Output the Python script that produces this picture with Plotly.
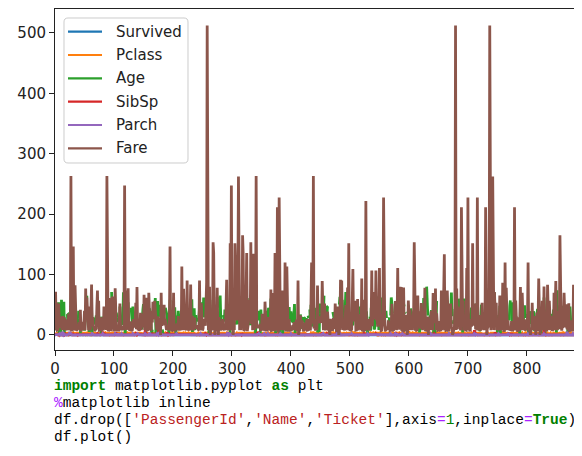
import plotly.graph_objects as go

N = None

SERIES_NAMES = ["Survived", "Pclass", "Age", "SibSp", "Parch", "Fare"]
X_TICKS = [0, 100, 200, 300, 400, 500, 600, 700, 800]
Y_TICKS = [0, 100, 200, 300, 400, 500]

SURVIVED = [
    0,1,1,1,0,0,0,0,1,1,1,1,0,0,0,1,0,1,0,1,0,1,1,1,0,1,0,0,1,0,
    0,1,1,0,0,0,1,0,0,1,0,0,0,1,1,0,0,1,1,0,0,0,1,1,0,0,1,0,0,0,
    0,0,0,1,1,0,1,0,0,0,0,0,1,1,1,1,1,0,1,0,0,0,1,1,0,1,0,1,0,0,
    1,0,1,1,1,1,0,0,1,0,0,0,0,0,1,0,0,1,1,1,0,1,0,0,0,1,1,0,1,1,
    0,0,1,1,1,0,0,0,0,0,0,1,0,0,0,0,1,0,0,1,0,0,0,0,0,1,0,1,0,1,
    0,0,0,0,1,1,0,1,0,0,0,1,1,1,0,0,1,0,0,1,0,0,1,1,0,0,0,1,1,0,
    0,0,1,1,0,1,0,0,1,0,0,0,1,0,1,1,0,1,0,1,1,0,0,0,0,0,1,0,0,1,
    0,0,1,0,1,0,1,1,0,0,0,0,0,1,0,0,1,1,0,0,1,1,0,0,1,0,0,1,0,0,
    0,1,1,0,0,1,0,0,1,1,1,0,1,0,0,0,0,0,1,0,0,1,1,0,1,0,0,1,0,0,
    1,1,0,1,0,0,0,0,1,1,0,1,1,0,0,1,0,0,1,1,0,0,1,1,0,0,0,0,1,0,
    1,0,0,1,1,0,0,1,0,1,0,1,0,0,0,1,0,0,1,1,1,0,1,1,1,0,1,0,1,0,
    0,1,0,0,1,0,0,1,1,1,0,0,0,1,0,0,0,1,0,0,1,0,1,1,1,1,0,1,1,1,
    0,1,0,0,0,1,0,0,1,0,1,1,1,1,0,1,0,0,0,0,0,0,1,1,1,1,0,1,0,1,
    1,1,0,0,0,0,0,1,1,0,0,0,1,1,0,0,0,1,1,0,1,0,0,0,1,0,0,0,0,0,
    0,0,0,1,0,0,0,0,1,0,1,1,0,0,0,1,0,1,0,0,1,0,1,1,0,0,0,1,0,1,
    0,1,0,0,0,1,0,0,0,0,1,1,0,0,1,0,1,1,0,0,1,0,0,1,1,1,1,0,0,0,
    0,0,1,0,0,1,0,0,0,0,1,1,0,0,1,1,0,0,0,1,0,0,0,0,0,1,1,0,0,1,
    0,0,0,0,1,1,0,0,0,1,1,0,1,0,0,1,0,0,0,1,0,0,0,1,0,1,0,0,1,0,
    1,0,1,0,0,0,0,1,0,0,0,1,0,0,1,0,1,0,0,1,0,0,0,1,0,0,1,0,0,0,
    1,0,0,1,0,0,1,0,1,0,0,1,0,0,0,1,0,1,1,0,0,0,1,0,0,0,0,0,1,0,
    0,1,0,0,0,1,0,0,1,1,0,1,0,0,0,1,1,0,1,0,0,1,0,0,0,1,0,1,1,1,
    0,0,1,0,1,0,0,0,1,1,0,1,0,0,1,0,0,0,1,0,0,1,1,0,1,0,1,0,0,0,
    0,0,0,1,0,0,1,0,0,1,1,0,0,1,0,0,0,1,1,0,0,0,0,1,0,1,0,0,1,0,
    1,0,0,0,1,0,0,1,0,0,0,1,1,0,0,1,1,0,0,0,1,0,0,1,0,0,1,0,0,1,
    0,0,1,1,0,0,1,0,0,0,1,0,0,1,0,0,0,0,1,1,0,0,0,1,0,0,1,0,1,0,
    0,1,0,0,0,1,1,0,0,0,1,0,0,0,1,0,0,1,0,0,1,0,0,0,0,1,0,0,1,1,
    0,0,0,1,0,1,0,0,0,1,0,0,1,0,0,0,1,0,1,0,0,0,1,0,0,1,0,0,0,1,
    1,0,0,0,1,0,0,0,1,0,0,1,0,1,0,0,0,0,1,0,0,1,0,0,0,1,0,0,1,0,
    0,1,0,0,0,1,0,1,0,0,0,1,0,0,1,0,0,0,1,0,1,0,0,0,1,0,0,1,0,0,
    1,0,0,0,1,0,0,1,0,0,0,1,0,0,1,0,1,0,1,0,0,
]

PCLASS = [
    3,1,3,1,3,3,1,3,3,2,3,1,3,3,3,2,3,2,3,3,2,2,3,1,3,3,3,1,3,3,
    1,1,3,2,1,1,3,3,3,3,3,2,3,1,3,3,3,3,1,3,3,3,1,2,1,3,2,3,2,1,
    3,1,1,3,1,3,2,3,3,3,2,1,1,3,1,3,3,3,1,3,3,3,3,3,3,1,3,2,3,3,
    3,3,3,1,3,3,3,2,3,2,1,3,3,3,3,3,3,3,3,1,1,3,3,3,2,3,3,1,3,3,
    1,3,2,3,2,3,3,2,3,2,3,3,3,2,1,3,3,3,3,1,3,3,3,1,3,3,3,3,3,3,
    2,1,3,3,3,3,3,3,1,1,2,3,3,3,3,3,3,3,2,3,3,3,3,1,3,3,3,3,3,1,
    3,1,3,3,3,3,3,1,3,2,3,3,1,2,1,3,3,2,3,1,3,3,1,2,3,2,3,3,3,2,
    3,2,3,3,1,2,3,3,1,3,1,3,2,3,3,3,1,3,2,3,3,3,1,2,2,3,3,1,3,1,
    3,1,2,3,2,1,3,3,3,2,2,3,2,3,3,2,3,1,3,3,1,3,2,3,3,2,1,2,3,3,
    1,3,1,3,1,3,1,1,3,3,2,3,2,3,1,1,3,3,1,1,2,3,1,3,3,2,1,2,2,1,
    3,1,1,1,1,3,1,2,3,1,1,2,3,3,2,3,3,3,2,2,3,2,2,2,3,2,3,1,1,3,
    3,2,2,3,3,2,3,1,3,2,3,1,2,3,3,3,3,2,2,1,2,3,3,3,1,1,3,3,1,2,
    1,1,3,2,3,3,3,1,3,2,3,3,3,1,1,3,3,3,1,2,3,2,2,3,3,2,2,3,2,2,
    3,3,2,3,1,1,2,3,2,3,3,1,3,3,3,3,1,2,3,3,3,3,3,2,3,3,3,2,2,1,
    2,3,2,3,1,2,1,1,1,2,2,1,2,1,3,2,3,2,1,3,2,3,3,1,3,3,3,3,3,3,
    3,3,3,1,2,2,3,3,3,2,3,3,2,3,2,3,1,3,2,1,3,2,3,1,3,3,3,1,2,3,
    3,2,3,1,3,2,2,1,2,3,3,1,2,3,3,2,3,3,3,1,2,3,3,2,3,1,3,2,3,1,
    3,3,3,1,2,3,3,2,3,3,3,1,3,3,3,2,3,2,3,2,1,1,3,2,3,1,3,2,2,3,
    1,3,3,1,3,2,1,3,3,1,3,3,2,1,3,2,3,3,1,2,3,1,3,3,3,2,3,3,2,1,
    3,3,2,3,1,3,1,3,3,2,1,3,3,1,3,2,3,3,1,3,3,2,3,1,3,1,2,3,3,2,
    3,1,3,2,3,3,1,3,2,3,3,2,3,1,1,3,3,3,1,3,3,3,1,3,3,3,1,2,3,3,
    3,3,1,3,2,3,3,3,1,2,3,2,3,2,3,3,1,3,2,3,3,1,3,2,3,3,1,3,3,3,
    2,3,2,3,3,1,2,3,3,1,1,3,3,2,3,3,2,1,1,3,3,3,3,1,3,2,3,3,3,1,
    2,3,3,1,3,2,1,2,2,1,3,3,1,2,1,3,3,1,2,3,3,3,3,3,2,3,1,3,3,3,
    1,3,3,2,2,1,1,3,1,2,3,3,3,1,3,2,1,3,1,3,3,3,3,3,2,2,3,1,3,3,
    2,3,3,3,3,1,3,3,1,3,2,3,2,3,3,2,3,3,2,2,1,2,3,3,3,1,3,3,2,3,
    3,2,3,3,3,3,1,3,3,3,2,2,3,1,3,1,2,3,1,3,3,2,3,3,1,3,3,3,3,2,
    3,1,2,3,3,3,3,3,2,2,3,1,3,3,3,1,3,2,3,3,2,1,3,1,3,3,1,3,1,3,
    3,1,3,1,3,3,3,3,3,3,2,3,1,2,2,3,3,3,1,3,3,2,3,1,3,3,3,3,3,1,
    2,3,3,3,3,1,3,2,3,3,3,3,3,2,3,2,3,1,3,1,3,
]

AGE = [
    22,38,26,35,35,N,54,2,27,14,
    4,58,20,39,14,55,2,N,31,N,
    35,34,15,28,8,38,N,19,N,N,
    40,N,N,66,28,42,N,21,18,14,
    40,27,N,3,19,N,N,N,N,18,
    7,21,49,29,65,N,21,28.5,5,11,
    22,38,45,4,N,N,29,19,17,26,
    32,16,21,26,32,25,N,N,0.83,30,
    22,29,N,28,17,33,16,N,23,24,
    29,20,46,26,59,N,71,23,34,34,
    28,N,21,33,37,28,21,N,38,N,
    47,14.5,22,20,17,21,70.5,29,24,2,
    21,N,32.5,32.5,54,12,N,24,N,45,
    33,20,47,29,25,23,19,37,16,24,
    N,22,24,19,18,19,27,9,36.5,42,
    51,22,55.5,40.5,N,51,16,30,N,N,
    44,40,26,17,1,9,N,45,N,28,
    61,4,1,21,56,18,N,50,30,36,
    N,N,9,1,4,N,N,45,40,36,
    32,19,19,3,44,58,N,42,N,24,
    28,N,34,45.5,18,2,32,26,16,40,
    24,35,22,30,N,31,27,42,32,30,
    16,27,51,N,38,22,19,20.5,18,N,
    35,29,59,5,24,N,44,8,19,33,
    N,N,29,22,30,44,25,24,37,54,
    N,29,62,30,41,29,N,30,35,50,
    N,3,52,40,N,36,16,25,58,35,
    N,25,41,37,N,63,45,N,7,35,
    65,28,16,19,N,33,30,22,42,22,
    26,19,36,24,24,N,23.5,2,N,50,
    N,N,19,N,N,0.92,N,17,30,30,
    24,18,26,28,43,26,24,54,31,40,
    22,27,30,22,N,36,61,36,31,16,
    N,45.5,38,16,N,N,29,41,45,45,
    2,24,28,25,36,24,40,N,3,42,
    23,N,15,25,N,28,22,38,N,N,
    40,29,45,35,N,30,60,N,N,24,
    25,18,19,22,3,N,22,27,20,19,
    42,1,32,35,N,18,1,36,N,17,
    36,21,28,23,24,22,31,46,23,28,
    39,26,21,28,20,34,51,3,21,N,
    N,N,33,N,44,N,34,18,30,10,
    N,21,29,28,18,N,28,19,N,32,
    28,N,42,17,50,14,21,24,64,31,
    45,20,25,28,N,4,13,34,5,52,
    36,N,30,49,N,29,65,N,50,N,
    48,34,47,48,N,38,N,56,N,0.75,
    N,38,33,23,22,N,34,29,22,2,
    9,N,50,63,25,N,35,58,30,9,
    N,21,55,71,21,N,54,N,25,24,
    17,21,N,37,16,18,33,N,28,26,
    29,N,36,54,24,47,34,N,36,32,
    30,22,N,44,N,40.5,50,N,39,23,
    2,N,17,N,30,7,45,30,N,22,
    36,9,11,32,50,64,19,N,33,8,
    17,27,N,22,22,62,48,N,39,36,
    N,40,28,N,N,24,19,29,N,32,
    62,53,36,N,16,19,34,39,N,32,
    25,39,54,36,N,18,47,60,22,N,
    35,52,47,N,37,36,N,49,N,49,
    24,N,N,44,35,36,30,27,22,40,
    39,N,N,N,35,24,34,26,4,26,
    27,42,20,21,21,61,57,21,26,N,
    80,51,32,N,9,28,32,31,41,N,
    20,24,2,N,0.75,48,19,56,N,23,
    N,18,21,N,18,24,N,32,23,58,
    50,40,47,36,20,32,25,N,43,N,
    40,31,70,31,N,18,24.5,18,43,36,
    N,27,20,14,60,25,14,19,18,15,
    31,4,N,25,60,52,44,N,49,42,
    18,35,18,25,26,39,45,42,22,N,
    24,N,48,29,52,19,38,27,N,33,
    6,17,34,50,27,20,30,N,25,25,
    29,11,N,23,23,28.5,48,35,N,N,
    N,36,21,24,31,70,16,30,19,31,
    4,6,33,23,48,0.67,28,18,34,33,
    N,41,20,36,16,51,N,30.5,N,32,
    24,48,57,N,54,18,N,5,N,43,
    13,17,29,N,25,25,18,8,1,46,
    N,16,N,N,25,39,49,31,30,30,
    34,31,11,0.42,27,31,39,18,39,33,
    26,39,35,6,30.5,N,23,31,43,10,
    52,27,38,27,2,N,N,1,N,62,
    15,0.83,N,23,18,39,21,N,32,N,
    20,16,30,34.5,17,42,N,35,28,N,
    4,74,9,16,44,18,45,51,24,N,
    41,21,48,N,24,42,27,31,N,4,
    26,47,33,47,28,15,20,19,N,56,
    25,33,22,28,25,39,27,19,N,26,
    32,
]

SIBSP = [
    1,1,0,1,0,0,0,3,0,1,1,0,0,1,0,0,4,0,1,0,0,0,0,0,3,1,0,3,0,0,
    0,1,0,0,1,1,0,0,2,0,1,1,0,1,0,0,0,0,0,0,0,0,0,0,0,0,0,1,0,1,
    0,0,0,1,1,0,0,0,1,0,0,0,2,1,0,0,0,0,0,0,1,5,0,0,0,1,0,0,0,1,
    0,0,0,0,0,0,0,1,0,0,1,0,0,4,0,0,0,0,1,0,0,0,0,0,0,0,0,1,0,0,
    0,0,1,0,1,0,0,0,0,0,0,0,1,0,0,0,0,2,0,0,1,1,0,0,0,0,0,0,1,0,
    0,0,0,8,0,0,0,0,0,0,0,1,0,0,3,0,0,0,0,1,0,1,0,4,0,0,8,0,0,0,
    0,0,0,1,0,0,0,0,0,0,4,0,0,1,0,0,1,1,0,0,0,0,0,0,0,1,0,0,0,0,
    0,0,0,1,0,0,1,1,0,0,0,0,0,0,0,0,0,1,0,0,0,1,0,0,0,0,0,0,0,1,
    0,0,0,0,1,0,0,1,1,0,0,0,0,0,0,2,0,0,1,0,0,0,0,1,0,0,1,0,0,0,
    0,0,0,0,0,1,0,1,0,1,0,0,0,0,0,1,0,0,1,1,0,0,0,4,0,0,0,0,0,0,
    0,0,1,0,0,0,1,0,0,0,0,1,0,0,1,0,2,0,1,0,0,0,0,0,0,0,0,0,0,0,
    0,0,1,0,0,0,0,0,0,1,0,0,0,0,5,0,0,0,0,0,1,0,0,0,0,1,0,1,0,0,
    0,1,0,0,0,0,0,0,0,0,0,0,0,1,0,0,0,0,1,0,0,0,1,0,0,0,0,0,0,0,
    1,0,0,0,0,0,0,0,0,0,1,0,0,0,0,0,0,0,0,0,0,0,0,0,0,0,0,0,0,1,
    0,0,0,0,1,0,0,0,1,1,0,0,1,0,1,0,0,0,0,0,0,0,0,0,0,0,0,0,0,0,
    0,0,0,4,0,1,0,0,0,0,0,2,0,0,0,0,1,0,0,0,0,0,0,0,1,0,0,0,3,0,
    0,0,0,0,1,0,0,1,0,0,0,0,0,0,0,0,0,0,0,0,0,0,0,1,0,0,0,0,0,0,
    0,1,0,0,0,0,1,0,0,0,0,0,0,0,2,0,0,0,0,0,1,0,0,1,1,0,0,1,0,0,
    0,0,1,1,2,0,0,0,0,0,0,0,0,1,0,1,0,0,0,0,0,0,0,0,0,0,0,0,0,1,
    0,1,0,0,0,0,0,4,0,0,1,0,0,0,1,0,0,0,0,1,0,0,0,0,0,0,0,0,1,0,
    0,0,0,1,0,0,0,0,0,0,1,0,0,0,1,0,0,0,0,0,0,0,1,0,0,0,1,0,0,0,
    0,1,1,0,0,0,1,0,0,1,0,1,0,2,0,0,0,0,0,0,0,0,0,0,0,0,0,1,0,1,
    0,0,0,0,0,0,0,0,0,1,0,0,0,0,0,0,1,0,0,0,0,0,0,1,0,0,0,0,1,0,
    0,0,0,1,0,0,0,0,0,0,1,0,0,0,0,0,0,0,0,0,0,8,0,0,1,0,0,0,0,0,
    0,0,0,0,1,0,0,0,0,0,0,0,0,0,0,0,0,1,0,0,0,0,0,0,0,0,4,0,0,0,
    0,0,0,0,1,0,0,1,0,0,0,0,0,0,0,0,0,0,1,2,0,0,1,0,0,1,0,0,0,0,
    0,0,0,0,0,0,0,0,0,1,0,0,1,0,0,0,0,0,0,0,0,0,1,0,0,0,1,0,0,0,
    0,0,0,0,0,0,0,0,0,0,0,0,0,0,0,0,0,0,0,8,0,0,0,0,0,0,0,0,0,0,
    1,0,0,0,0,0,0,0,0,0,1,0,0,0,0,0,0,0,0,0,0,0,0,0,0,0,0,0,1,0,
    0,0,0,0,0,0,1,0,0,0,0,0,0,0,0,0,0,0,1,0,0,
]

PARCH = [
    0,0,0,0,0,0,0,1,2,0,1,0,0,5,0,0,1,0,0,0,0,0,0,0,1,5,0,2,0,0,
    0,0,0,0,0,0,0,0,0,0,0,0,0,0,0,0,0,0,0,0,0,0,0,0,0,0,0,0,0,0,
    0,1,0,2,1,0,0,0,0,1,0,0,0,0,0,0,0,0,0,0,0,2,0,0,0,0,0,0,1,0,
    0,0,0,1,0,0,0,1,0,0,0,0,2,1,0,0,0,2,0,0,0,0,0,2,0,0,0,0,0,0,
    0,0,0,0,1,0,0,0,0,0,0,0,2,0,0,0,0,0,0,1,2,1,0,0,0,0,0,0,0,0,
    0,0,0,2,0,0,0,0,0,0,2,2,0,0,1,0,0,0,0,0,0,1,0,2,0,0,2,0,0,0,
    2,0,0,0,0,0,0,0,0,0,1,0,0,0,0,0,0,0,0,0,0,0,0,0,0,0,2,0,0,0,
    0,0,0,0,0,0,0,0,0,0,0,0,0,0,0,0,0,0,0,0,0,0,0,0,0,0,0,0,0,1,
    0,0,0,1,0,0,0,2,0,0,0,0,0,0,0,0,0,0,0,0,0,0,0,0,0,0,1,0,0,0,
    0,0,0,0,0,0,0,0,0,0,1,0,1,0,0,1,0,0,0,0,0,0,2,0,0,2,2,0,0,0,
    0,0,0,0,0,0,1,0,0,0,0,0,0,0,0,0,0,0,0,0,0,0,0,0,0,0,0,1,0,0,
    0,0,0,0,0,0,1,0,0,0,0,0,0,0,2,0,2,0,0,0,0,0,0,0,0,2,0,0,0,0,
    0,2,0,0,0,0,0,0,0,1,0,0,0,0,0,1,0,0,0,0,0,0,2,0,0,0,0,0,0,0,
    0,0,0,0,0,0,0,0,0,0,2,0,0,0,0,0,0,0,0,0,0,0,0,0,0,0,0,0,0,0,
    0,0,0,0,0,0,0,0,0,0,0,0,0,0,0,0,0,0,0,0,0,0,0,0,0,0,0,0,0,0,
    0,0,0,2,0,2,0,0,0,0,0,1,0,0,0,0,0,0,0,0,0,0,0,0,0,0,0,0,2,0,
    0,0,0,2,0,0,0,0,0,0,0,0,0,0,0,0,0,0,0,0,0,0,1,2,0,0,0,0,0,0,
    0,1,0,0,0,0,0,0,0,0,0,0,0,0,1,0,0,0,0,0,2,0,0,1,1,0,0,1,0,0,
    0,0,0,0,1,0,0,0,0,0,0,0,0,0,1,0,0,0,0,0,0,0,0,0,0,0,0,0,0,2,
    0,0,0,0,0,0,0,2,0,0,1,0,0,0,0,0,0,2,0,2,0,0,0,0,0,0,0,0,2,0,
    0,0,0,0,0,0,0,1,0,0,1,0,1,0,0,0,0,0,0,0,0,0,1,0,0,0,0,0,0,0,
    0,1,1,0,0,0,0,2,0,0,0,0,0,0,0,0,0,0,0,0,0,0,0,0,0,0,0,1,0,0,
    0,0,0,0,0,0,0,0,2,0,0,0,0,0,0,0,0,0,0,0,0,0,0,1,0,0,0,0,1,0,
    0,0,0,0,0,0,0,0,0,0,0,0,0,0,0,0,0,1,0,0,0,2,0,0,1,0,0,0,0,0,
    0,0,0,0,0,0,0,0,0,0,0,0,0,0,0,0,0,0,0,0,0,0,0,0,0,0,1,0,0,0,
    0,0,2,0,0,0,0,0,0,0,0,1,0,0,0,0,0,0,3,1,0,0,0,0,0,0,0,0,0,0,
    0,0,0,0,0,0,0,0,0,0,0,0,1,0,0,0,0,0,0,0,0,0,2,0,0,0,1,0,0,0,
    0,0,0,0,0,0,0,0,0,0,0,0,0,0,0,0,0,0,0,2,0,0,0,0,0,0,0,0,0,0,
    0,0,0,0,0,0,1,0,0,0,1,0,0,0,0,0,0,0,0,0,0,0,1,0,0,0,0,0,5,0,
    0,0,0,0,0,0,0,0,2,0,0,0,0,0,0,5,0,0,2,0,0,
]

FARE = [
    7.25,71.28,7.93,53.1,8.05,8.46,51.86,21.08,11.13,30.07,
    16.7,26.55,8.05,31.28,7.85,16,29.13,13,18,7.23,
    26,13,8.03,35.5,21.08,31.39,7.23,263,7.88,7.9,
    27.72,146.52,7.75,10.5,82.17,52,7.23,8.05,18,11.24,
    9.48,21,7.9,41.58,7.88,8.05,15.5,7.75,21.68,17.8,
    39.69,7.8,76.73,26,61.98,35.5,10.5,7.23,27.75,46.9,
    7.23,80,83.48,27.9,27.72,15.25,10.5,8.16,7.93,8.66,
    10.5,46.9,73.5,14.45,56.5,7.65,7.9,8.05,29,12.48,
    9,9.5,7.79,47.1,10.5,15.85,34.38,8.05,263,8.05,
    8.05,7.85,61.18,20.58,7.25,8.05,34.65,63.36,23,26,
    7.9,7.9,77.29,8.65,7.93,7.9,7.65,7.78,7.9,24.15,
    52,14.45,8.05,9.83,14.46,7.93,7.75,21,247.52,31.28,
    73.5,8.05,30.07,13,77.29,11.24,7.75,7.14,22.36,6.98,
    7.9,7.05,14.5,26,13,15.05,26.28,53.1,9.22,79.2,
    15.25,7.75,15.85,6.75,11.5,36.75,7.8,34.38,26,13,
    12.53,66.6,8.05,14.5,7.31,61.38,7.73,8.05,8.66,69.55,
    16.1,15.75,7.78,8.66,39.69,20.53,55,27.9,25.93,56.5,
    33.5,29.13,11.13,7.93,30.7,7.85,25.47,28.71,13,0,
    69.55,15.05,31.39,39,22.03,50,15.5,26.55,15.5,7.9,
    13,13,7.85,26,27.72,146.52,7.75,8.4,7.75,13,
    9.5,69.55,6.5,7.23,8.05,10.46,15.85,18.79,7.75,31,
    7.05,21,7.25,13,7.75,113.28,7.93,27,76.29,10.5,
    8.05,13,8.05,7.9,90,9.35,10.5,7.25,13,25.47,
    83.48,7.78,13.5,31.39,10.5,7.55,26,26.25,10.5,12.28,
    14.45,15.5,10.5,7.13,7.23,90,7.78,14.5,52.55,26,
    7.25,10.46,26.55,16.1,20.21,15.25,79.2,86.5,512.33,26,
    7.75,31.39,79.65,0,7.75,10.5,39.69,7.78,153.46,135.63,
    31,0,19.5,29.7,7.75,77.96,7.75,0,29.13,20.25,
    7.75,7.85,9.5,8.05,26,8.66,9.5,7.9,13,7.75,
    78.85,91.08,12.88,8.85,7.9,27.72,7.23,151.55,30.5,247.52,
    7.75,23.25,0,12.35,8.05,151.55,110.88,108.9,24,56.93,
    83.16,262.38,26,7.9,26.25,7.85,26,14,164.87,134.5,
    7.25,7.9,12.35,29,69.55,135.63,6.24,13,20.53,57.98,
    23.25,28.5,153.46,18,133.65,7.9,66.6,134.5,8.05,35.5,
    26,263,13,13,13,13,13,16.1,15.9,8.66,
    9.23,35,7.23,17.8,7.23,9.5,55,13,7.88,7.88,
    27.9,27.72,14.45,7.05,15.5,7.25,75.25,7.23,7.75,69.3,
    55.44,6.5,8.05,135.63,21.08,82.17,7.25,211.5,4.01,7.78,
    227.53,15.74,7.93,52,7.9,73.5,46.9,13,7.73,12,
    120,7.8,7.93,113.28,16.7,7.8,7.85,26,10.5,12.65,
    7.93,8.05,9.83,15.85,8.66,21,7.75,18.75,7.78,25.47,
    7.9,6.86,90,0,7.93,8.05,32.5,13,13,24.15,
    7.9,7.73,7.88,14.4,20.21,7.25,26,26,7.75,8.05,
    26.55,16.1,26,7.13,55.9,120,34.38,18.75,263,10.5,
    26.25,9.5,7.78,13,8.11,81.86,19.5,26.55,19.26,30.5,
    27.75,19.97,27.75,89.1,8.05,7.9,26.55,51.86,10.5,7.75,
    26.55,8.05,38.5,13,8.05,7.05,0,26.55,7.73,19.26,
    7.25,8.66,27.75,13.79,9.84,52,21,7.05,7.52,12.29,
    46.9,0,8.05,9.59,91.08,25.47,90,29.7,8.05,15.9,
    19.97,7.25,30.5,49.5,8.05,14.46,78.27,15.1,151.55,7.8,
    8.66,7.75,7.63,9.59,86.5,108.9,26,26.55,22.53,56.5,
    7.75,8.05,26.29,59.4,7.5,34.02,10.5,24.15,26,7.9,
    93.5,7.9,7.23,57.98,7.23,7.75,10.5,221.78,7.93,11.5,
    26,7.23,7.23,22.36,8.66,26.25,26.55,106.43,14.5,49.5,
    71,31.28,31.28,26,106.43,26,26,13.86,20.53,36.75,
    110.88,26,7.83,7.23,7.78,26.55,39.6,227.53,79.65,17.4,
    7.75,7.9,13.5,8.05,8.05,24.15,7.9,21.08,7.23,7.85,
    10.5,51.48,26.39,7.75,8.05,14.5,13,55.9,14.46,7.93,
    30,110.88,26,40.13,8.71,79.65,15,79.2,8.05,8.05,
    7.13,78.27,7.25,7.75,26,24.15,33,0,7.23,56.93,
    27,7.9,42.4,8.05,26.55,15.55,7.9,30.5,41.58,153.46,
    31.28,7.05,15.5,7.75,8.05,65,14.4,16.1,39,10.5,
    14.45,52.55,15.74,7.85,16.1,32.32,12.35,77.96,7.9,7.73,
    30,7.05,30.5,0,27.9,13,7.93,26.25,39.69,16.1,
    7.85,69.3,27.9,56.5,19.26,76.73,7.9,35.5,7.55,7.55,
    7.9,23,8.43,7.83,6.75,73.5,7.9,15.5,13,113.28,
    133.65,7.23,25.59,7.5,7.93,73.5,13,7.78,8.05,52,
    39,52,10.5,13,0,7.78,8.05,9.84,46.9,512.33,
    8.14,76.73,9.23,46.9,39,41.58,39.69,10.17,7.8,211.34,
    57,13.42,56.5,7.23,26.55,13.5,8.05,7.73,110.88,7.65,
    227.53,26.29,14.45,7.74,7.85,26,13.5,26.29,151.55,15.25,
    49.5,26.55,52,9.48,13,7.65,227.53,10.5,15.5,7.78,
    33,7.05,13,13,53.1,8.66,21,7.74,26,7.93,
    211.34,18.79,0,13,13,16.1,34.38,512.33,7.9,7.9,
    30,78.85,262.38,16.1,7.93,71,20.25,13,53.1,7.75,
    23,12.48,9.5,7.9,65,14.5,7.8,11.5,8.05,86.5,
    14.5,7.13,7.23,120,7.78,77.96,39.6,7.75,24.15,8.36,
    9.5,7.85,10.5,7.23,23,7.75,7.75,12.48,7.74,211.34,
    7.23,57,30,23.45,7.05,7.25,7.5,29.13,20.58,79.2,
    7.75,26,69.55,30.7,7.9,13,25.93,8.68,7.23,24.15,
    13,26.25,120,8.52,6.98,7.78,0,7.78,13,53.1,
    7.89,24.15,10.5,31.28,8.05,0,7.93,37,6.45,27.9,
    93.5,8.66,0,12.48,39.69,6.95,56.5,37,7.75,80,
    14.45,18.75,7.23,7.85,8.3,83.16,8.66,8.05,56.5,29.7,
    7.93,10.5,31,6.44,8.66,7.55,69.55,7.9,33,89.1,
    31.28,7.78,15.25,39.4,26,9.35,164.87,26.55,19.26,7.23,
    14.11,11.5,25.93,69.55,13,13,13.86,50.5,9.5,11.13,
    7.9,52.55,5,9,24,7.23,9.85,7.9,7.9,83.16,
    26,7.9,10.52,10.5,7.05,29.13,13,30,23.45,30,
    7.75,
]

COLORS = ["#1f77b4", "#ff7f0e", "#2ca02c", "#d62728", "#9467bd", "#8c564b"]
VALUES = [SURVIVED, PCLASS, AGE, SIBSP, PARCH, FARE]

# The page body has an 8px margin, so the figure sits 8px in from the window's corner.
OFF = 8
W, H = 574, 440
L, R, T, B = 47, 2, 1, 98
PW, PH = W - L - R, H - T - B


def px_x(wx):
    return (wx - OFF - L) / PW


def px_y(wy):
    return 1 - (wy - OFF - T) / PH


LINE_W = 2.8
LEG_LINE_W = 2.2

fig = go.Figure()
for name, vals, col in zip(SERIES_NAMES, VALUES, COLORS):
    fig.add_trace(go.Scatter(
        x=list(range(len(vals))), y=vals, mode="lines", name=name,
        line=dict(color=col, width=LINE_W), connectgaps=False, hoverinfo="skip",
        showlegend=False,
    ))

axis_common = dict(
    showline=True, linecolor="#222222", linewidth=1, mirror=True,
    ticks="outside", ticklen=5, tickwidth=1, tickcolor="#222222",
    showgrid=False, zeroline=False,
    tickfont=dict(family="DejaVu Sans", size=15, color="#222222"),
)
fig.update_xaxes(range=[0, 890], tickvals=X_TICKS, ticktext=[str(v) for v in X_TICKS], **axis_common)
fig.update_yaxes(range=[-25.0, 539.6], tickvals=Y_TICKS, ticktext=[str(v) for v in Y_TICKS], **axis_common)

fig.update_layout(
    width=W, height=H,
    margin=dict(l=L, r=R, t=T, b=B, pad=0),
    paper_bgcolor="white", plot_bgcolor="white",
    font=dict(family="DejaVu Sans", size=15, color="#222222"),
    showlegend=False,
)

# Legend box (rounded rectangle) in window pixel coordinates
BX0, BY0, BX1, BY1, RAD = 64, 18, 188, 163, 4


def P(wx, wy):
    return f"{px_x(wx):.5f},{px_y(wy):.5f}"


box_path = (
    f"M{P(BX0 + RAD, BY0)} L{P(BX1 - RAD, BY0)} Q{P(BX1, BY0)} {P(BX1, BY0 + RAD)} "
    f"L{P(BX1, BY1 - RAD)} Q{P(BX1, BY1)} {P(BX1 - RAD, BY1)} "
    f"L{P(BX0 + RAD, BY1)} Q{P(BX0, BY1)} {P(BX0, BY1 - RAD)} "
    f"L{P(BX0, BY0 + RAD)} Q{P(BX0, BY0)} {P(BX0 + RAD, BY0)} Z"
)
fig.add_shape(type="path", path=box_path, xref="paper", yref="paper",
              fillcolor="rgba(255,255,255,0.8)", line=dict(color="#cccccc", width=1),
              layer="above")

LEG_Y = [31.7, 55.0, 78.3, 101.7, 125.0, 148.3]
for name, col, wy in zip(SERIES_NAMES, COLORS, LEG_Y):
    fig.add_shape(type="line", xref="paper", yref="paper",
                  x0=px_x(68), x1=px_x(102), y0=px_y(wy), y1=px_y(wy),
                  line=dict(color=col, width=LEG_LINE_W), layer="above")
    fig.add_annotation(xref="paper", yref="paper", x=px_x(114), y=px_y(wy),
                       xanchor="left", yanchor="middle", showarrow=False, text=name,
                       font=dict(family="DejaVu Sans", size=15, color="#222222"))

G = "#008000"
PU = "#AA22FF"
S = "#BA2121"


def c(col, txt, bold=False):
    t = f"<b>{txt}</b>" if bold else txt
    return f"<span style='color:{col}'>{t}</span>"


CODE_LINES = [
    c(G, "import", True) + " matplotlib.pyplot " + c(G, "as", True) + " plt",
    c(PU, "%") + "matplotlib inline",
    "df.drop([" + c(S, "'PassengerId'") + "," + c(S, "'Name'") + "," + c(S, "'Ticket'")
    + "],axis" + c(PU, "=") + c(G, "1") + ",inplace" + c(PU, "=") + c(G, "True", True) + ")",
    "df.plot()",
]
CODE_Y = [386, 403, 420, 437]

for line, wy in zip(CODE_LINES, CODE_Y):
    fig.add_annotation(
        xref="paper", yref="paper", x=px_x(52), y=px_y(wy),
        xanchor="left", yanchor="middle", showarrow=False, align="left",
        text=line, font=dict(family="Liberation Mono", size=14.5, color="#000000"),
    )

fig.write_html("out.html")
